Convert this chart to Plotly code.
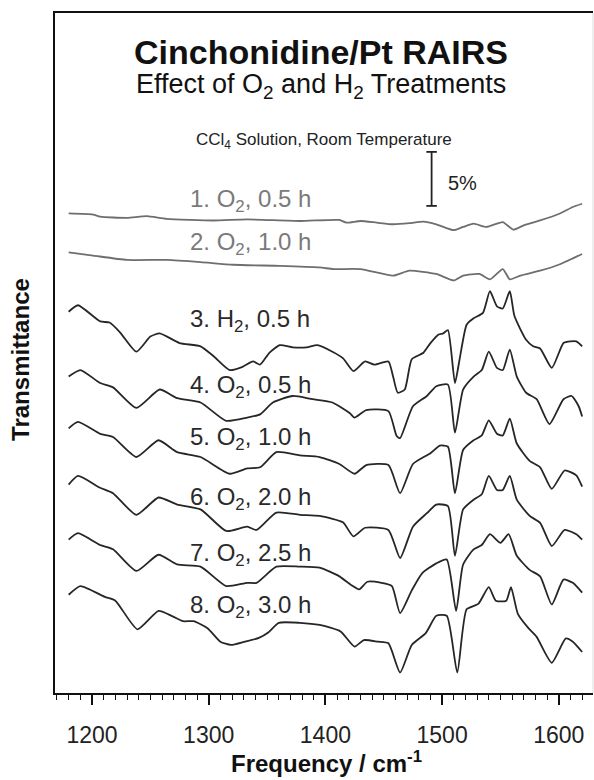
import plotly.graph_objects as go

# ---------------- data ----------------
labels = ["1. O<sub>2</sub>, 0.5 h", "2. O<sub>2</sub>, 1.0 h", "3. H<sub>2</sub>, 0.5 h",
          "4. O<sub>2</sub>, 0.5 h", "5. O<sub>2</sub>, 1.0 h", "6. O<sub>2</sub>, 2.0 h",
          "7. O<sub>2</sub>, 2.5 h", "8. O<sub>2</sub>, 3.0 h"]

# stacking offsets of each spectrum (% transmittance)
offsets = [44.4, 40.8, 35.3, 29.3, 24.5, 19.3, 14.2, 9.1]

wn_1 = [1180, 1201, 1207, 1230, 1247, 1264, 1304, 1333, 1378, 1412, 1418, 1430, 1444, 1458,
        1472, 1484, 1495, 1510, 1518, 1527, 1538, 1552, 1561, 1570, 1584, 1601, 1612, 1620]
t_1 = [0, -0.1, -0.3, -0.4, -0.25, -0.5, -0.65, -0.55, -0.7, -0.6, -0.85, -0.7, -0.85, -1.0,
       -0.9, -0.75, -1.0, -1.55, -1.25, -0.95, -1.25, -0.8, -1.5, -1.1, -0.65, 0, 0.6, 0.9]

wn_2 = [1180, 1201, 1230, 1264, 1293, 1321, 1361, 1395, 1407, 1430, 1458, 1472, 1495, 1510,
        1518, 1532, 1541, 1552, 1558, 1567, 1584, 1601, 1620]
t_2 = [0, -0.3, -0.7, -0.7, -0.9, -1.15, -1.25, -1.4, -1.55, -1.55, -2.15, -1.7, -2.0, -2.6,
       -2.15, -2.0, -2.5, -1.55, -2.5, -2.15, -1.7, -1.1, -0.15]

wn_3 = [1180, 1188, 1207, 1215, 1224, 1238, 1250, 1258, 1275, 1293, 1304, 1318, 1329, 1338,
        1344, 1352, 1361, 1372, 1384, 1393, 1406, 1415, 1424, 1434, 1442, 1454, 1458, 1462,
        1468, 1474, 1484, 1490, 1497, 1501, 1505, 1511, 1515, 1521, 1527, 1535, 1541, 1547,
        1552, 1558, 1562, 1572, 1578, 1584, 1594, 1604, 1610, 1615, 1620]
t_3 = [0, 0.6, -0.9, -1.0, -1.9, -3.7, -2.3, -2.0, -2.9, -3.2, -4.1, -5.4, -5.1, -4.6,
       -4.9, -3.8, -3.1, -3.3, -3.3, -3.1, -3.7, -4.3, -5.5, -4.6, -4.9, -4.6, -6.0, -7.5,
       -7.2, -4.4, -3.8, -2.9, -2.1, -2.0, -1.7, -6.6, -4.4, -1.2, -0.6, -0.1, 1.9, 0.5,
       0.3, 1.9, -0.4, -2.6, -3.2, -3.4, -5.2, -2.9, -2.75, -2.75, -3.2]

wn_4 = [1180, 1190, 1207, 1218, 1238, 1258, 1273, 1293, 1315, 1333, 1344, 1355, 1372, 1389,
        1406, 1421, 1425, 1435, 1454, 1461, 1464, 1475, 1487, 1495, 1505, 1511, 1518, 1527,
        1534, 1540, 1547, 1552, 1558, 1564, 1572, 1581, 1592, 1604, 1611, 1617, 1620]
t_4 = [0, 0.6, -0.6, -1.0, -2.9, -1.2, -2.0, -2.4, -4.1, -3.8, -3.5, -2.4, -1.8, -2.1,
       -2.4, -3.4, -3.8, -3.1, -3.2, -5.5, -5.7, -2.75, -1.8, -0.9, -0.75, -5.2, -1.2, 0,
       0.6, 2.3, 0.8, 0.6, 2.5, 0, -1.5, -2.1, -4.4, -2.1, -1.8, -2.75, -3.7]

wn_5 = [1180, 1188, 1207, 1218, 1238, 1257, 1273, 1293, 1318, 1333, 1344, 1358, 1378, 1395,
        1412, 1425, 1435, 1454, 1464, 1475, 1490, 1498, 1505, 1511, 1518, 1527, 1534, 1540,
        1547, 1552, 1558, 1564, 1575, 1584, 1594, 1605, 1615, 1620]
t_5 = [0, 0.6, -0.5, -0.8, -2.65, -1.1, -2.2, -2.65, -4.2, -3.7, -3.6, -2.2, -2.5, -2.65,
       -3.3, -4.2, -3.4, -3.4, -6.0, -3.3, -2.3, -1.6, -1.7, -6.0, -2.0, -1.1, -0.65, 0.75,
       -0.5, -0.65, 0.9, -1.4, -3.0, -3.6, -5.6, -3.9, -4.35, -5.4]

wn_6 = [1180, 1188, 1207, 1218, 1238, 1257, 1273, 1293, 1315, 1333, 1341, 1358, 1378, 1395,
        1415, 1424, 1434, 1454, 1464, 1475, 1487, 1495, 1505, 1511, 1518, 1527, 1534, 1540,
        1547, 1552, 1558, 1564, 1575, 1584, 1594, 1605, 1615, 1620]
t_6 = [0, 0.8, -0.3, -0.8, -2.8, -1.2, -1.85, -2.3, -4.3, -3.9, -4.2, -2.6, -2.8, -2.9,
       -3.5, -4.8, -4.0, -4.2, -6.8, -3.9, -2.65, -1.85, -2.0, -6.6, -2.3, -1.4, -0.9, 0.8,
       -0.5, -0.5, 0.8, -1.4, -2.9, -3.55, -5.7, -4.2, -4.6, -5.1]

wn_7 = [1180, 1188, 1207, 1218, 1238, 1257, 1273, 1293, 1315, 1333, 1341, 1358, 1378, 1395,
        1412, 1422, 1429, 1436, 1448, 1457, 1464, 1474, 1483, 1495, 1504, 1512, 1518, 1527,
        1534, 1541, 1550, 1557, 1564, 1575, 1584, 1594, 1604, 1612, 1620]
t_7 = [0, 0.6, -0.5, -0.9, -2.9, -1.4, -2.3, -2.5, -4.3, -4.0, -4.0, -2.5, -2.5, -2.6,
       -3.4, -4.2, -4.6, -3.9, -4.0, -4.3, -6.8, -4.7, -3.1, -2.2, -1.85, -6.6, -2.3, -0.9,
       -0.5, 0.5, -0.3, 0.5, -1.5, -2.8, -3.4, -6.0, -3.7, -4.0, -4.9]

wn_8 = [1180, 1190, 1211, 1220, 1239, 1257, 1269, 1278, 1287, 1299, 1310, 1319, 1331, 1343,
        1351, 1360, 1378, 1395, 1413, 1425, 1433, 1445, 1454, 1464, 1474, 1486, 1495, 1504,
        1513, 1521, 1531, 1540, 1546, 1555, 1559, 1565, 1574, 1581, 1594, 1606, 1612, 1620]
t_8 = [0, 0.8, -0.2, -0.55, -3.2, -1.5, -2.0, -2.45, -2.45, -3.1, -4.35, -4.65, -4.35, -4.0,
       -3.5, -2.6, -2.6, -2.8, -3.4, -4.8, -4.2, -4.35, -4.5, -7.2, -4.65, -3.55, -1.95, -1.95,
       -7.2, -1.35, -0.85, 0.7, -0.55, -0.55, 0.7, -1.8, -3.1, -3.9, -6.3, -4.05, -4.35, -5.3]

wavenumbers = [wn_1, wn_2, wn_3, wn_4, wn_5, wn_6, wn_7, wn_8]
spectra = [t_1, t_2, t_3, t_4, t_5, t_6, t_7, t_8]

x_ticks = [1200, 1300, 1400, 1500, 1600]
scale_pct = 5

# ---------------- styling / layout ----------------
FONT = "Liberation Sans, Arial, Helvetica, sans-serif"
line_colors = ["#6e6e6e", "#6e6e6e"] + ["#262626"] * 6
label_colors = ["#7a7a7a", "#7a7a7a"] + ["#2a2a2a"] * 6
label_y = [45.6, 41.6, 34.5, 28.4, 23.6, 18.0, 12.8, 8.0]
label_x = 1282

fig = go.Figure()
for wn, t, off, col in zip(wavenumbers, spectra, offsets, line_colors):
    fig.add_trace(go.Scatter(
        x=wn, y=[off + v for v in t], mode="lines",
        line=dict(color=col, width=1.8, shape="spline", smoothing=0.55),
        showlegend=False, hoverinfo="skip"))

annotations = []
for lab, ly, lc in zip(labels, label_y, label_colors):
    annotations.append(dict(x=label_x, y=ly, xref="x", yref="y", text=lab, showarrow=False,
                            xanchor="left", yanchor="middle",
                            font=dict(family=FONT, size=24, color=lc)))

# titles inside the plot
annotations += [
    dict(x=0.494, y=0.943, xref="paper", yref="paper", text="<b>Cinchonidine/Pt RAIRS</b>",
         showarrow=False, xanchor="center", yanchor="middle",
         font=dict(family=FONT, size=34, color="#111")),
    dict(x=0.495, y=0.893, xref="paper", yref="paper",
         text="Effect of O<sub>2</sub> and H<sub>2</sub> Treatments",
         showarrow=False, xanchor="center", yanchor="middle",
         font=dict(family=FONT, size=27, color="#111")),
    dict(x=0.50, y=0.812, xref="paper", yref="paper",
         text="CCl<sub>4</sub> Solution, Room Temperature",
         showarrow=False, xanchor="center", yanchor="middle",
         font=dict(family=FONT, size=17, color="#222")),
    dict(x=1503, y=47.2, xref="x", yref="y", text="5%", showarrow=False,
         xanchor="left", yanchor="middle", font=dict(family=FONT, size=20, color="#222")),
    dict(x=0.505, y=-0.126, xref="paper", yref="paper",
         text="<b>Frequency / cm<sup>-1</sup></b>", showarrow=False,
         xanchor="center", yanchor="bottom", font=dict(family=FONT, size=24, color="#111")),
    dict(x=-0.063, y=0.49, xref="paper", yref="paper", text="<b>Transmittance</b>",
         textangle=-90, showarrow=False, xanchor="center", yanchor="middle",
         font=dict(family=FONT, size=24, color="#111")),
]

# 5% scale bar
bar_x, bar_y0 = 1491, 45.1
shapes = [
    dict(type="line", xref="x", yref="y", x0=bar_x, x1=bar_x, y0=bar_y0, y1=bar_y0 + scale_pct,
         line=dict(color="#222", width=1.8)),
    dict(type="line", xref="x", yref="y", x0=bar_x - 4.5, x1=bar_x + 4.5, y0=bar_y0, y1=bar_y0,
         line=dict(color="#222", width=1.8)),
    dict(type="line", xref="x", yref="y", x0=bar_x - 4.5, x1=bar_x + 4.5,
         y0=bar_y0 + scale_pct, y1=bar_y0 + scale_pct, line=dict(color="#222", width=1.8)),
    # faint right border
    dict(type="line", xref="paper", yref="paper", x0=1, x1=1, y0=0, y1=1,
         line=dict(color="#dcdcdc", width=1)),
]

fig.update_layout(
    width=594, height=780,
    margin=dict(l=55, r=1, t=13, b=87),
    paper_bgcolor="white", plot_bgcolor="white",
    annotations=annotations, shapes=shapes,
    xaxis=dict(range=[1168.3, 1629.3], tickvals=x_ticks, ticks="outside", ticklen=10,
               tickwidth=1.5, tickcolor="#111", showline=True, linecolor="#111", linewidth=2,
               mirror=True, showgrid=False, zeroline=False, ticklabelstandoff=10,
               tickfont=dict(family=FONT, size=23, color="#222"),
               minor=dict(dtick=10, tick0=1200, ticks="outside", ticklen=5, tickwidth=1.2,
                          tickcolor="#111", showgrid=False)),
    yaxis=dict(range=[0, 62.96], showticklabels=False, ticks="", showline=True,
               linecolor="#111", linewidth=2, showgrid=False, zeroline=False),
)

fig.write_html("out.html")
